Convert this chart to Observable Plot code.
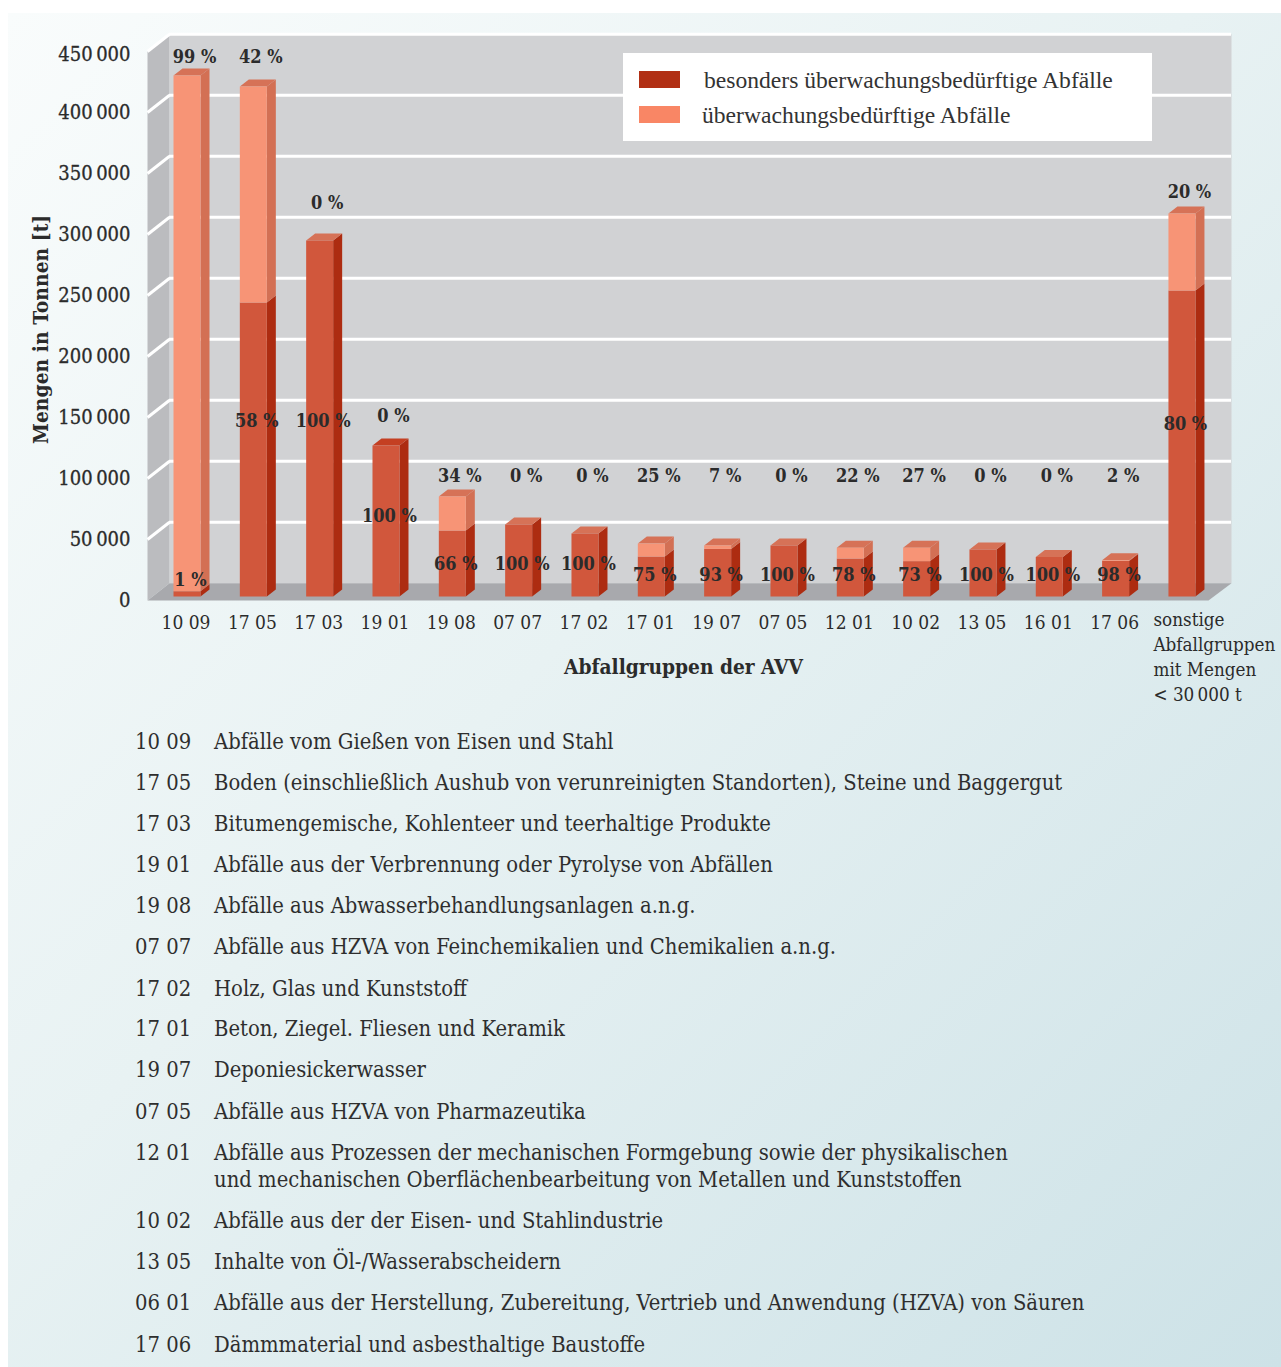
<!DOCTYPE html>
<html lang="de"><head><meta charset="utf-8">
<script src="https://cdn.jsdelivr.net/npm/d3@7"></script>
<script src="https://cdn.jsdelivr.net/npm/@observablehq/plot@0.6"></script>
<style>
html,body{margin:0;background:#fff;}
body{position:relative;width:1281px;height:1367px;overflow:hidden;font-family:"DejaVu Serif Condensed","DejaVu Serif",serif;color:#2e2e2e;}
#panel{position:absolute;left:8px;top:13px;width:1273px;height:1354px;background:linear-gradient(135deg,#f9fcfc 0%,#e8f2f3 45%,#cde2e7 100%);}
#chart{position:absolute;left:0;top:0;}
#chart svg{display:block;background:transparent!important;}
#legend{position:absolute;left:623px;top:53px;width:529px;height:88px;background:#fff;}
#legend i{position:absolute;left:16px;width:41px;height:17px;}
#legend span{position:absolute;font:23.6px/28px "Liberation Serif",serif;white-space:nowrap;color:#333;}
#list div{position:absolute;white-space:nowrap;font-size:21.8px;line-height:27px;}
#list b{position:absolute;font-weight:normal;left:135px;}
#list span{position:absolute;left:214px;}
</style></head><body>
<div id="panel"></div><div id="chart"></div>
<div id="legend"></div><div id="list"></div>
<script>
const groups=["10 09","17 05","17 03","19 01","19 08","07 07","17 02","17 01","19 07","07 05","12 01","10 02","13 05","16 01","17 06","sonstige"];
const totals=[427000,418000,291800,123800,82000,59000,51600,43400,41800,41800,40000,40000,38500,32400,29800,314000];
const hazardous=[4300,241000,291800,123800,54100,59000,51600,32800,39000,41800,31200,29000,38500,32400,29200,250800];
const upperPct=["99 %","42 %","0 %","0 %","34 %","0 %","0 %","25 %","7 %","0 %","22 %","27 %","0 %","0 %","2 %","20 %"];
const upperAt=[441800,441800,322000,148000,98400,98400,98400,98400,98400,98400,98400,98400,98400,98400,98400,331000];
const lowerPct=["1 %","58 %","100 %","100 %","66 %","100 %","100 %","75 %","93 %","100 %","78 %","73 %","100 %","100 %","98 %","80 %"];
const lowerAt=[13100,144000,144000,65500,26200,26200,26200,17200,17200,17200,17200,17200,17200,17200,17200,141000];
const yTicks=[0,50000,100000,150000,200000,250000,300000,350000,400000,450000];
const legendItems=["besonders überwachungsbedürftige Abfälle","überwachungsbedürftige Abfälle"];
const glossaryCodes=["10 09","17 05","17 03","19 01","19 08","07 07","17 02","17 01","19 07","07 05","12 01","10 02","13 05","06 01","17 06"];
const glossaryTexts=[
"Abfälle vom Gießen von Eisen und Stahl",
"Boden (einschließlich Aushub von verunreinigten Standorten), Steine und Baggergut",
"Bitumengemische, Kohlenteer und teerhaltige Produkte",
"Abfälle aus der Verbrennung oder Pyrolyse von Abfällen",
"Abfälle aus Abwasserbehandlungsanlagen a.n.g.",
"Abfälle aus HZVA von Feinchemikalien und Chemikalien a.n.g.",
"Holz, Glas und Kunststoff",
"Beton, Ziegel. Fliesen und Keramik",
"Deponiesickerwasser",
"Abfälle aus HZVA von Pharmazeutika",
"Abfälle aus Prozessen der mechanischen Formgebung sowie der physikalischen\nund mechanischen Oberflächenbearbeitung von Metallen und Kunststoffen",
"Abfälle aus der der Eisen- und Stahlindustrie",
"Inhalte von Öl-/Wasserabscheidern",
"Abfälle aus der Herstellung, Zubereitung, Vertrieb und Anwendung (HZVA) von Säuren",
"Dämmmaterial und asbesthaltige Baustoffe"];
const glossaryTops=[728,769,810,851,892,933,975,1015,1056,1098,1139,1207,1248,1289,1331];

const serif='"DejaVu Serif Condensed","DejaVu Serif",serif';
const C={wall:"#d1d2d4",side:"#bbbcbf",floor:"#a8a9ad",grid:"#ffffff",
 dark:"#d1573c",darkSide:"#ad2c11",darkTop:"#d67257",darkTopAlt:"#c43f22",
 light:"#f79476",lightSide:"#d37054",lightTop:"#d67257",text:"#2b2b2b"};
const pxX=66.33, pxY=549/450000;
const barW=27/pxX, barDX=9/pxX, barDY=7/pxY;
const xBack0=-4/pxX, xFront0=-26/pxX, xBack1=1058/pxX, xFront1=1035/pxX;
const yBackOff=13.3/pxY, yFrontOff=-4/pxY;
const yTop=450000;

let fid=0;const faces=[];
function poly(color,pts){const z=fid++;for(const [x,y] of pts)faces.push({x,y,z,color});}
poly(C.wall,[[xBack0,yBackOff],[xBack1,yBackOff],[xBack1,yTop+yBackOff],[xBack0,yTop+yBackOff]]);
poly(C.side,[[xFront0,yFrontOff],[xBack0,yBackOff],[xBack0,yTop+yBackOff],[xFront0,yTop+yFrontOff]]);
poly(C.floor,[[xFront0,yFrontOff],[xFront1,yFrontOff],[xBack1,yBackOff],[xBack0,yBackOff]]);
const backLines=yTicks.filter(t=>t>0).map(t=>({t}));
const barFaces=[];
groups.forEach((g,i)=>{
 const T=totals[i],H=hazardous[i],L=i+barW,R=L+barDX;
 const side=(c,a,b)=>barPoly(c,[[L,a],[R,a+barDY],[R,b+barDY],[L,b]]);
 function barPoly(c,pts){const z=fid++;for(const [x,y] of pts)barFaces.push({x,y,z,color:c});}
 side(C.darkSide,0,H);
 if(T>H)side(C.lightSide,H,T);
 barPoly(g==="19 01"?C.darkTopAlt:(T>H?C.lightTop:C.darkTop),[[i,T],[i+barDX,T+barDY],[R,T+barDY],[L,T]]);
 barPoly(C.dark,[[i,0],[L,0],[L,H],[i,H]]);
 if(T>H)barPoly(C.light,[[i,H],[L,H],[L,T],[i,T]]);
});
const rows=groups.map((g,i)=>({i,g,u:upperPct[i],ua:upperAt[i],l:lowerPct[i],la:lowerAt[i]}));
const fmt=d=>d3.format(",")(d).replace(/,/g,"\u2009");
const axisYOpts={tickFormat:fmt,tickSize:0,tickPadding:8,fontSize:20,label:null,fill:C.text,textStroke:C.text,textStrokeWidth:0.3};

const plot=Plot.plot({
 width:1281,height:715,marginLeft:138,marginBottom:119,marginTop:0,marginRight:0,
 style:{background:"transparent",fontFamily:serif,color:C.text},
 x:{type:"linear",domain:[0,15],range:[173,173+pxX*15]},
 y:{type:"linear",domain:[0,450000],range:[596,47]},
 color:{type:"identity"},
 marks:[
  Plot.line(faces,{x:"x",y:"y",z:"z",fill:"color",stroke:"none"}),
  Plot.ruleY(backLines,{y:d=>d.t+yBackOff,x1:xBack0,x2:xBack1,stroke:C.grid,strokeWidth:3}),
  Plot.link(yTicks.filter(t=>t>0),{x1:xFront0,x2:xBack0,y1:t=>t+yFrontOff,y2:t=>t+yBackOff,stroke:C.grid,strokeWidth:3}),
  Plot.line(barFaces,{x:"x",y:"y",z:"z",fill:"color",stroke:"none"}),
  Plot.axisY({...axisYOpts,ticks:yTicks.slice(0,-1),dy:4}),
  Plot.axisY({...axisYOpts,ticks:yTicks.slice(-1),dy:7}),
  Plot.axisX({ticks:d3.range(15),tickFormat:i=>groups[i],tickSize:0,tickPadding:19,dx:12.5,fontSize:19,label:null,fill:C.text}),
  Plot.text(["sonstige\nAbfallgruppen\nmit Mengen\n< 30\u2009000 t"],{x:15,y:-9600,dx:-15,textAnchor:"start",lineAnchor:"top",lineHeight:1.34,fontSize:18.7,fill:C.text}),
  Plot.text(rows,{x:"i",y:"ua",text:"u",dx:21,fontSize:18,fontWeight:"bold",fill:C.text}),
  Plot.text(rows,{x:"i",y:"la",text:"l",dx:17,fontSize:18,fontWeight:"bold",fill:C.text}),
  Plot.text(["Mengen in Tonnen [t]"],{x:-132/pxX,y:219000,rotate:-90,fontSize:20.9,fontWeight:"bold",fill:C.text}),
  Plot.text(["Abfallgruppen der AVV"],{x:510/pxX,y:-58200,fontSize:20.7,fontWeight:"bold",fill:C.text})
 ]
});
document.getElementById("chart").appendChild(plot);

const leg=document.getElementById("legend");
["#b12f14","#f98665"].forEach((c,i)=>{
 const s=document.createElement("i");s.style.background=c;s.style.top=(18+i*35)+"px";leg.appendChild(s);
 const t=document.createElement("span");t.textContent=legendItems[i];t.style.left=(i?79:81)+"px";t.style.top=(13+i*35)+"px";leg.appendChild(t);
});
const list=document.getElementById("list");
glossaryCodes.forEach((c,i)=>{
 const d=document.createElement("div");d.style.top=glossaryTops[i]+"px";
 const b=document.createElement("b");b.textContent=c;d.appendChild(b);
 glossaryTexts[i].split("\n").forEach((line,k)=>{
  const s=document.createElement("span");s.textContent=line;s.style.top=(k*27)+"px";d.appendChild(s);
 });
 list.appendChild(d);
});
</script></body></html>
